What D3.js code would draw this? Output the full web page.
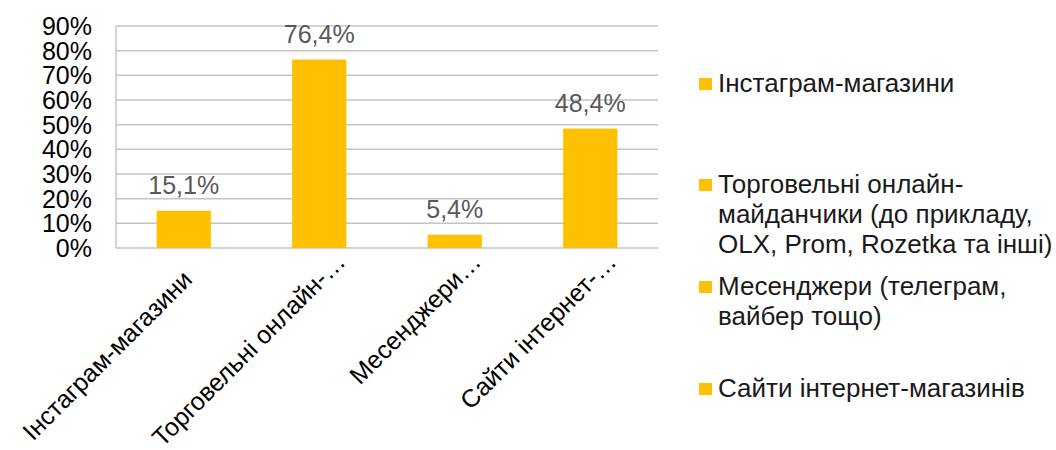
<!DOCTYPE html>
<html>
<head>
<meta charset="utf-8">
<script src="https://cdn.jsdelivr.net/npm/d3@7"></script>
<style>
  body { margin: 0; background: #fff; }
  text { font-family: "Liberation Sans", Arial, sans-serif; }
</style>
</head>
<body>
<div id="chart"></div>
<script>
// chart data
var categories = ["Інстаграм-магазини", "Торговельні онлайн-майданчики (до прикладу, OLX, Prom, Rozetka та інші)", "Месенджери (телеграм, вайбер тощо)", "Сайти інтернет-магазинів"];
var axisLabels = ["Інстаграм-магазини", "Торговельні онлайн-", "Месенджери", "Сайти інтернет-"];
var axisTruncated = [false, true, true, true];
var values = [15.1, 76.4, 5.4, 48.4];
var legendLines = [
    ["Інстаграм-магазини"],
    ["Торговельні онлайн-", "майданчики (до прикладу,", "OLX, Prom, Rozetka та інші)"],
    ["Месенджери (телеграм,", "вайбер тощо)"],
    ["Сайти інтернет-магазинів"]
];
var yTicks = [0, 10, 20, 30, 40, 50, 60, 70, 80, 90];

var width = 1056, height = 450;
var barColor = "#FFC000";
var plot = { left: 116, right: 658, top: 26, bottom: 248 };

var svg = d3.select("#chart").append("svg")
    .attr("width", width)
    .attr("height", height);

var x = d3.scaleBand()
    .domain(categories)
    .range([plot.left, plot.right])
    .paddingInner(0.6)
    .paddingOuter(0.3);

var y = d3.scaleLinear()
    .domain([0, 90])
    .range([plot.bottom, plot.top]);

// gridlines
svg.append("g")
    .selectAll("line")
    .data(yTicks)
    .enter()
    .append("line")
    .attr("x1", plot.left)
    .attr("x2", plot.right)
    .attr("y1", (d) => y(d))
    .attr("y2", (d) => y(d))
    .attr("stroke", "#c4c4c4")
    .attr("stroke-width", 1.5);

// left axis line
svg.append("line")
    .attr("x1", plot.left).attr("x2", plot.left)
    .attr("y1", plot.top).attr("y2", plot.bottom)
    .attr("stroke", "#c4c4c4")
    .attr("stroke-width", 1.5);

// y tick labels
svg.append("g")
    .selectAll("text")
    .data(yTicks)
    .enter()
    .append("text")
    .attr("x", 92)
    .attr("y", (d) => y(d) + 9)
    .attr("text-anchor", "end")
    .attr("font-size", "25px")
    .attr("fill", "#000")
    .text((d) => d + "%");

// bars
svg.append("g")
    .selectAll("rect")
    .data(values)
    .enter()
    .append("rect")
    .attr("x", (d, i) => x(categories[i]))
    .attr("y", (d) => y(d))
    .attr("width", x.bandwidth())
    .attr("height", (d) => plot.bottom - y(d))
    .attr("fill", barColor);

// value labels
svg.append("g")
    .selectAll("text")
    .data(values)
    .enter()
    .append("text")
    .attr("x", (d, i) => x(categories[i]) + x.bandwidth() / 2)
    .attr("y", (d) => y(d) - 17)
    .attr("text-anchor", "middle")
    .attr("font-size", "25px")
    .attr("fill", "#595959")
    .text((d) => d.toFixed(1).replace(".", ",") + "%");

// x labels, rotated; ellipsis hangs past the anchor point
var labelGroups = svg.append("g")
    .selectAll("g")
    .data(axisLabels)
    .enter()
    .append("g")
    .attr("transform", (d, i) => {
        var cx = x(categories[i]) + x.bandwidth() / 2 + 10;
        return "translate(" + cx + "," + 281 + ") rotate(-45)";
    });

labelGroups.append("text")
    .attr("text-anchor", "end")
    .attr("font-size", "25px")
    .attr("fill", "#000")
    .text((d) => d);

labelGroups.filter((d, i) => axisTruncated[i])
    .append("text")
    .attr("text-anchor", "start")
    .attr("font-size", "25px")
    .attr("fill", "#000")
    .text("…");

// legend
var legendTop = [92, 193, 295, 397];
var legend = svg.append("g");
legendLines.forEach((lines, i) => {
    legend.append("rect")
        .attr("x", 699)
        .attr("y", legendTop[i] - 14)
        .attr("width", 13)
        .attr("height", 12)
        .attr("fill", barColor);
    lines.forEach((line, j) => {
        legend.append("text")
            .attr("x", 718)
            .attr("y", legendTop[i] + j * 30)
            .attr("font-size", "26px")
            .attr("fill", "#1a1a1a")
            .text(line);
    });
});
</script>
</body>
</html>
